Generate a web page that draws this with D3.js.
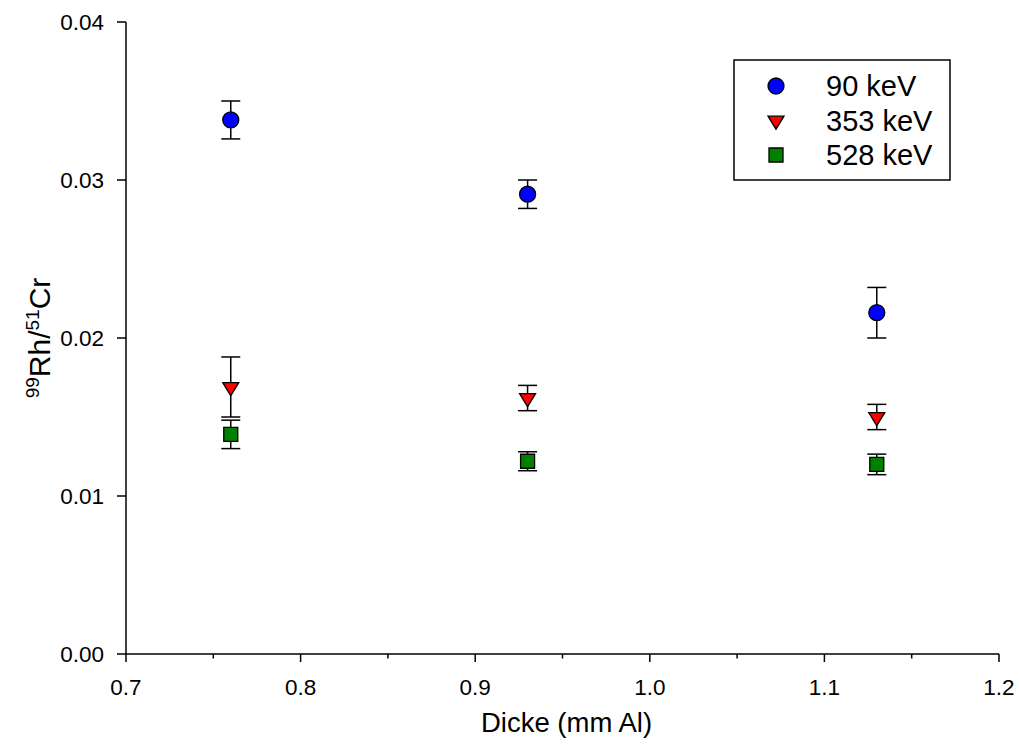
<!DOCTYPE html>
<html>
<head>
<meta charset="utf-8">
<script src="https://cdn.jsdelivr.net/npm/d3@7"></script>
<style>
  html, body { margin: 0; padding: 0; background: #fff; }
  svg { display: block; }
  text { font-family: "Liberation Sans", Arial, sans-serif; fill: #000; }
</style>
</head>
<body>
<svg id="chart" width="1019" height="745"></svg>
<script>
// ---- data ----
const thickness = [0.76, 0.93, 1.13];
const ratio90 = [0.0338, 0.0291, 0.0216];
const err90 = [0.0012, 0.0009, 0.0016];
const ratio353 = [0.0169, 0.0162, 0.0150];
const err353 = [0.0019, 0.0008, 0.0008];
const ratio528 = [0.0139, 0.0122, 0.0120];
const err528 = [0.0009, 0.0006, 0.00065];
const seriesNames = ["90 keV", "353 keV", "528 keV"];
const xTicks = [0.7, 0.8, 0.9, 1.0, 1.1, 1.2];
const xMinorTicks = [0.75, 0.85, 0.95, 1.05, 1.15];
const yTicks = [0.00, 0.01, 0.02, 0.03, 0.04];
const xTitle = "Dicke (mm Al)";

// ---- layout ----
const svg = d3.select("#chart");
const x = d3.scaleLinear().domain([0.7, 1.2]).range([126, 999]);
const y = d3.scaleLinear().domain([0, 0.04]).range([654, 22]);

const series = [
  { name: seriesNames[0], values: ratio90, errs: err90, color: "#0000ff", shape: "circle" },
  { name: seriesNames[1], values: ratio353, errs: err353, color: "#ff0000", shape: "triangle" },
  { name: seriesNames[2], values: ratio528, errs: err528, color: "#008000", shape: "square" }
];

function markerPath(shape) {
  if (shape === "circle") return d3.symbol(d3.symbolCircle, Math.PI * 8 * 8)();
  if (shape === "square") return d3.symbol(d3.symbolSquare, 14 * 14)();
  // downward triangle, centred on centroid: width 16, height 13
  const w = 8, h = 13;
  return `M${-w},${-h / 3}L${w},${-h / 3}L0,${2 * h / 3}Z`;
}

// ---- axes ----
const axisG = svg.append("g");
// y axis
axisG.append("line").attr("x1", x(0.7)).attr("x2", x(0.7)).attr("y1", y(0.04)).attr("y2", y(0))
  .attr("stroke", "#000").attr("stroke-width", 1.5);
axisG.selectAll(".ytick").data(yTicks).enter().append("line")
  .attr("x1", x(0.7) - 9).attr("x2", x(0.7)).attr("y1", d => y(d)).attr("y2", d => y(d))
  .attr("stroke", "#000").attr("stroke-width", 1.5);
axisG.selectAll(".ylab").data(yTicks).enter().append("text")
  .attr("x", x(0.7) - 22).attr("y", d => y(d)).attr("dy", "0.36em")
  .attr("text-anchor", "end").attr("font-size", 22.5)
  .text(d => d3.format(".2f")(d));
// x axis
axisG.append("line").attr("x1", x(0.7)).attr("x2", x(1.2)).attr("y1", y(0)).attr("y2", y(0))
  .attr("stroke", "#000").attr("stroke-width", 1.5);
axisG.selectAll(".xtick").data(xTicks).enter().append("line")
  .attr("x1", d => x(d)).attr("x2", d => x(d)).attr("y1", y(0)).attr("y2", y(0) + 8)
  .attr("stroke", "#000").attr("stroke-width", 1.5);
axisG.selectAll(".xminor").data(xMinorTicks).enter().append("line")
  .attr("x1", d => x(d)).attr("x2", d => x(d)).attr("y1", y(0)).attr("y2", y(0) + 4.5)
  .attr("stroke", "#000").attr("stroke-width", 1.5);
axisG.selectAll(".xlab").data(xTicks).enter().append("text")
  .attr("x", d => x(d)).attr("y", 695)
  .attr("text-anchor", "middle").attr("font-size", 22.5)
  .text(d => d3.format(".1f")(d));

// axis titles
svg.append("text").attr("x", (x(0.7) + x(1.2)) / 2 + 4).attr("y", 732)
  .attr("text-anchor", "middle").attr("font-size", 27.5).text(xTitle);

const yt = svg.append("text")
  .attr("transform", `translate(50,${(y(0) + y(0.04)) / 2}) rotate(-90)`)
  .attr("text-anchor", "middle").attr("font-size", 30);
yt.append("tspan").attr("font-size", 19).attr("dy", -11).text("99");
yt.append("tspan").attr("dy", 11).text("Rh/");
yt.append("tspan").attr("font-size", 19).attr("dy", -11).text("51");
yt.append("tspan").attr("dy", 11).text("Cr");

// ---- error bars & markers ----
const capHalf = 9.5;
series.forEach(s => {
  const g = svg.append("g");
  const pts = thickness.map((t, i) => ({ t, v: s.values[i], e: s.errs[i] }));
  g.selectAll(".eb").data(pts).enter().append("line")
    .attr("x1", d => x(d.t)).attr("x2", d => x(d.t))
    .attr("y1", d => y(d.v + d.e)).attr("y2", d => y(d.v - d.e))
    .attr("stroke", "#000").attr("stroke-width", 1.5);
  g.selectAll(".capT").data(pts).enter().append("line")
    .attr("x1", d => x(d.t) - capHalf).attr("x2", d => x(d.t) + capHalf)
    .attr("y1", d => y(d.v + d.e)).attr("y2", d => y(d.v + d.e))
    .attr("stroke", "#000").attr("stroke-width", 1.5);
  g.selectAll(".capB").data(pts).enter().append("line")
    .attr("x1", d => x(d.t) - capHalf).attr("x2", d => x(d.t) + capHalf)
    .attr("y1", d => y(d.v - d.e)).attr("y2", d => y(d.v - d.e))
    .attr("stroke", "#000").attr("stroke-width", 1.5);
});
series.forEach(s => {
  const pts = thickness.map((t, i) => ({ t, v: s.values[i] }));
  svg.append("g").selectAll("path").data(pts).enter().append("path")
    .attr("d", markerPath(s.shape))
    .attr("transform", d => `translate(${x(d.t)},${y(d.v)})`)
    .attr("fill", s.color).attr("stroke", "#000").attr("stroke-width", 1.3);
});

// ---- legend ----
const lg = svg.append("g");
lg.append("rect").attr("x", 734).attr("y", 60).attr("width", 216).attr("height", 120)
  .attr("fill", "#fff").attr("stroke", "#000").attr("stroke-width", 1.5);
const rowY = d3.scalePoint().domain(seriesNames).range([86, 155]);
series.forEach(s => {
  lg.append("path").attr("d", markerPath(s.shape))
    .attr("transform", `translate(776,${rowY(s.name)})`)
    .attr("fill", s.color).attr("stroke", "#000").attr("stroke-width", 1.3);
  lg.append("text").attr("x", 826).attr("y", rowY(s.name)).attr("dy", "0.36em")
    .attr("font-size", 29).text(s.name);
});
</script>
</body>
</html>
